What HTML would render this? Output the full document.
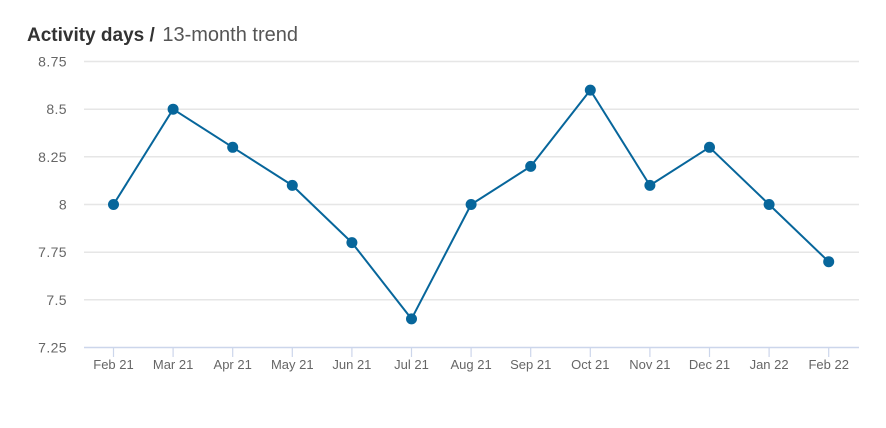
<!DOCTYPE html>
<html><head><meta charset="utf-8"><style>
html,body{margin:0;padding:0;background:#fff;}
svg{display:block;}
text{font-family:"Liberation Sans",Arial,sans-serif;}
</style></head><body>
<svg width="886" height="428" viewBox="0 0 886 428" xmlns="http://www.w3.org/2000/svg">
<rect width="886" height="428" fill="#fff"/>
<text x="27" y="41" font-size="19" fill="#333"><tspan font-weight="bold">Activity days /</tspan><tspan fill="#555" font-size="20" dx="2"> 13-month trend</tspan></text>
<g stroke="#e6e6e6" stroke-width="1.5">
<line x1="84" x2="859" y1="61.5" y2="61.5"/>
<line x1="84" x2="859" y1="109.2" y2="109.2"/>
<line x1="84" x2="859" y1="156.8" y2="156.8"/>
<line x1="84" x2="859" y1="204.5" y2="204.5"/>
<line x1="84" x2="859" y1="252.2" y2="252.2"/>
<line x1="84" x2="859" y1="299.8" y2="299.8"/>
</g>
<line x1="84" x2="859" y1="347.5" y2="347.5" stroke="#ccd6eb" stroke-width="1.5"/>
<g stroke="#ccd6eb" stroke-width="1.2">
<line x1="113.5" x2="113.5" y1="347.5" y2="357"/>
<line x1="173.1" x2="173.1" y1="347.5" y2="357"/>
<line x1="232.7" x2="232.7" y1="347.5" y2="357"/>
<line x1="292.3" x2="292.3" y1="347.5" y2="357"/>
<line x1="351.9" x2="351.9" y1="347.5" y2="357"/>
<line x1="411.5" x2="411.5" y1="347.5" y2="357"/>
<line x1="471.1" x2="471.1" y1="347.5" y2="357"/>
<line x1="530.7" x2="530.7" y1="347.5" y2="357"/>
<line x1="590.3" x2="590.3" y1="347.5" y2="357"/>
<line x1="649.9" x2="649.9" y1="347.5" y2="357"/>
<line x1="709.5" x2="709.5" y1="347.5" y2="357"/>
<line x1="769.1" x2="769.1" y1="347.5" y2="357"/>
<line x1="828.7" x2="828.7" y1="347.5" y2="357"/>
</g>
<g font-size="14" fill="#666" text-anchor="end" letter-spacing="0.4">
<text x="67" y="66.5">8.75</text>
<text x="67" y="114.2">8.5</text>
<text x="67" y="161.8">8.25</text>
<text x="67" y="209.5">8</text>
<text x="67" y="257.2">7.75</text>
<text x="67" y="304.8">7.5</text>
<text x="67" y="352.5">7.25</text>
</g>
<g font-size="13" fill="#666" text-anchor="middle">
<text x="113.5" y="369">Feb 21</text>
<text x="173.1" y="369">Mar 21</text>
<text x="232.7" y="369">Apr 21</text>
<text x="292.3" y="369">May 21</text>
<text x="351.9" y="369">Jun 21</text>
<text x="411.5" y="369">Jul 21</text>
<text x="471.1" y="369">Aug 21</text>
<text x="530.7" y="369">Sep 21</text>
<text x="590.3" y="369">Oct 21</text>
<text x="649.9" y="369">Nov 21</text>
<text x="709.5" y="369">Dec 21</text>
<text x="769.1" y="369">Jan 22</text>
<text x="828.7" y="369">Feb 22</text>
</g>
<polyline fill="none" stroke="#07669b" stroke-width="2" stroke-linejoin="round"
points="113.5,204.5 173.1,109.2 232.7,147.3 292.3,185.4 351.9,242.6 411.5,318.9 471.1,204.5 530.7,166.4 590.3,90.1 649.9,185.4 709.5,147.3 769.1,204.5 828.7,261.7"/>
<g fill="#07669b">
<circle cx="113.5" cy="204.5" r="5.5"/>
<circle cx="173.1" cy="109.2" r="5.5"/>
<circle cx="232.7" cy="147.3" r="5.5"/>
<circle cx="292.3" cy="185.4" r="5.5"/>
<circle cx="351.9" cy="242.6" r="5.5"/>
<circle cx="411.5" cy="318.9" r="5.5"/>
<circle cx="471.1" cy="204.5" r="5.5"/>
<circle cx="530.7" cy="166.4" r="5.5"/>
<circle cx="590.3" cy="90.1" r="5.5"/>
<circle cx="649.9" cy="185.4" r="5.5"/>
<circle cx="709.5" cy="147.3" r="5.5"/>
<circle cx="769.1" cy="204.5" r="5.5"/>
<circle cx="828.7" cy="261.7" r="5.5"/>
</g>
</svg>
</body></html>
